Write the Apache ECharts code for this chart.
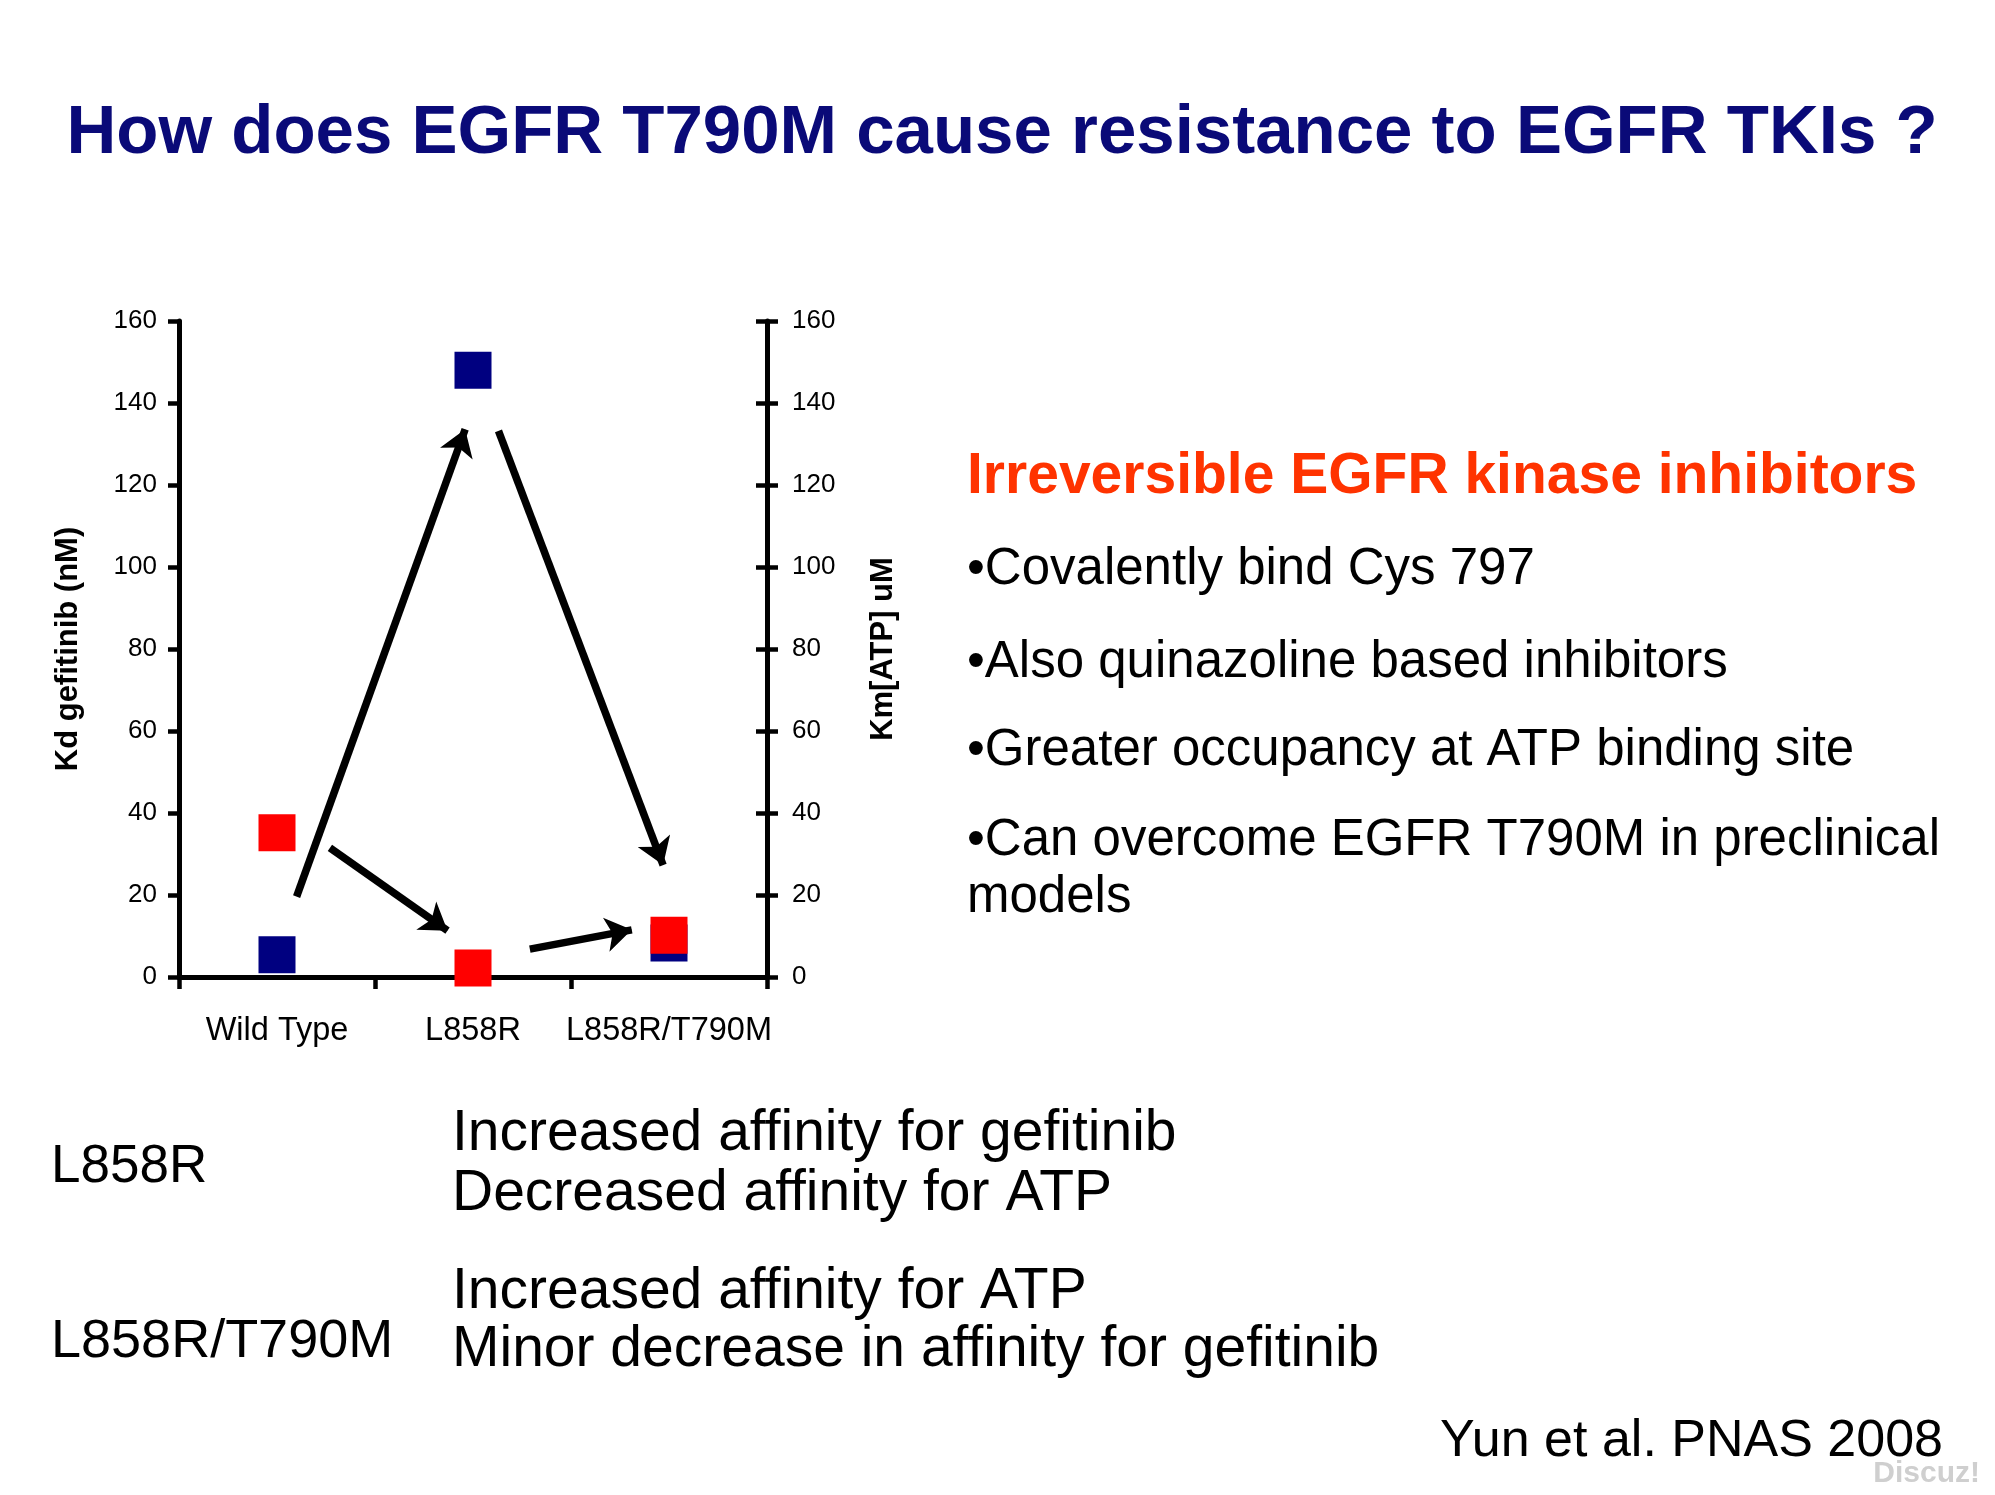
<!DOCTYPE html>
<html><head><meta charset="utf-8">
<script src="https://cdn.jsdelivr.net/npm/echarts@6/dist/echarts.min.js"></script>
<style>html,body{margin:0;padding:0;background:#fff}#c{width:1995px;height:1495px}</style>
</head><body><div id="c"></div>
<script>
// ---- data ----
const categories = ['Wild Type', 'L858R', 'L858R/T790M'];
const kdGefitinib = [35.2, 2.2, 10.2];   // red squares, left axis (nM)
const kmATP = [5.4, 148, 8.3];           // blue squares, right axis (uM)
const axisMin = 0, axisMax = 160, axisStep = 20;
const leftAxisName = 'Kd gefitinib (nM)';
const rightAxisName = 'Km[ATP] uM';
// arrows: [start, end] in (category index, value) units
const arrowStarts = [[0.10, 19.6], [1.13, 133.2], [0.27, 31.5], [1.29, 6.8]];
const arrowEnds   = [[0.96, 133.6], [1.97, 27.3], [0.87, 11.3], [1.81, 11.5]];

const titleText = 'How does EGFR T790M cause resistance to EGFR TKIs ?';
const headerText = 'Irreversible EGFR kinase inhibitors';
const bulletLines = ['\u2022Covalently bind Cys 797', '\u2022Also quinazoline based inhibitors',
  '\u2022Greater occupancy at ATP binding site', '\u2022Can overcome EGFR T790M in preclinical', 'models'];
const mutationNames = ['L858R', 'L858R/T790M'];
const effectLines = ['Increased affinity for gefitinib', 'Decreased affinity for ATP',
  'Increased affinity for ATP', 'Minor decrease in affinity for gefitinib'];
const citation = 'Yun et al. PNAS 2008';
const watermark = 'Discuz!';

// ---- layout ----
const FONT = '"Liberation Sans", Arial, sans-serif';
const bulletY = [570, 663, 751, 841, 898];
const effectY = [1134, 1194, 1292, 1350];
const mutationY = [1167, 1342];

function txt(x, y, text, size, opts) {
  opts = opts || {};
  return {
    type: 'text', x: x, y: y, silent: true,
    style: {
      text: text, fontSize: size, fontFamily: FONT,
      fontWeight: opts.weight || 'normal', fill: opts.color || '#000',
      align: opts.align || 'left', verticalAlign: 'middle'
    }
  };
}

const graphics = [
  txt(1002, 134, titleText, 69, {weight: 'bold', color: '#0a0a78', align: 'center'}),
  txt(967, 477, headerText, 57, {weight: 'bold', color: '#ff3300'})
];
bulletLines.forEach((t, i) => graphics.push(txt(967, bulletY[i], t, 51)));
mutationNames.forEach((t, i) => graphics.push(txt(51, mutationY[i], t, i === 0 ? 53 : 54)));
effectLines.forEach((t, i) => graphics.push(txt(452, effectY[i], t, 57)));
graphics.push(txt(1943, 1442, citation, 52, {align: 'right'}));
graphics.push(txt(1980, 1474, watermark, 30, {align: 'right', weight: 'bold', color: '#cfcfcf'}));

const axisCommon = {
  type: 'value', min: axisMin, max: axisMax, interval: axisStep,
  splitLine: {show: false},
  axisLine: {show: true, onZero: false, lineStyle: {color: '#000', width: 5}},
  axisTick: {show: true, length: 11, lineStyle: {color: '#000', width: 4.5}},
  axisLabel: {color: '#000', fontSize: 26, fontFamily: FONT},
  nameLocation: 'middle',
  nameTextStyle: {color: '#000', fontSize: 31, fontWeight: 'bold', fontFamily: FONT}
};

const chart = echarts.init(document.getElementById('c'), null, {renderer: 'canvas'});
chart.setOption({
  backgroundColor: '#fff',
  animation: false,
  grid: {left: 179, right: 1228, top: 321, bottom: 518, containLabel: false},
  xAxis: [{
    type: 'category', data: categories, boundaryGap: true,
    axisLine: {onZero: false, lineStyle: {color: '#000', width: 5}},
    axisTick: {show: true, length: 12, lineStyle: {color: '#000', width: 4.5}},
    axisLabel: {color: '#000', fontSize: 32.5, fontFamily: FONT, margin: 38, interval: 0}
  }, {
    type: 'value', min: -0.5, max: 2.5, show: false
  }],
  yAxis: [
    Object.assign({}, axisCommon, {position: 'left', name: leftAxisName, nameGap: 95,
      axisLabel: Object.assign({}, axisCommon.axisLabel, {margin: 22})}),
    Object.assign({}, axisCommon, {position: 'right', name: rightAxisName, nameGap: 101,
      axisLabel: Object.assign({}, axisCommon.axisLabel, {margin: 25})}),
    Object.assign({}, axisCommon, {position: 'right', name: '',
      axisLine: {show: false, onZero: false}, axisLabel: {show: false},
      axisTick: {show: true, inside: true, length: 11, lineStyle: {color: '#000', width: 4.5}}})
  ],
  series: [{
    type: 'scatter', name: 'Km ATP', xAxisIndex: 0, yAxisIndex: 1,
    data: kmATP, symbol: 'rect', symbolSize: 37,
    itemStyle: {color: '#000080', opacity: 1}, z: 3
  }, {
    type: 'scatter', name: 'Kd gefitinib', xAxisIndex: 0, yAxisIndex: 0,
    data: kdGefitinib, symbol: 'rect', symbolSize: 37,
    itemStyle: {color: '#ff0000', opacity: 1}, z: 4
  }, {
    type: 'lines', coordinateSystem: 'cartesian2d', xAxisIndex: 1, yAxisIndex: 0,
    symbol: ['none', 'arrow'], symbolSize: [22, 26],
    lineStyle: {color: '#000', width: 7.5, opacity: 1, curveness: 0},
    itemStyle: {color: '#000'},
    data: arrowStarts.map((s, i) => ({coords: [s, arrowEnds[i]]})),
    z: 5
  }],
  graphic: graphics
});
</script>
</body></html>
